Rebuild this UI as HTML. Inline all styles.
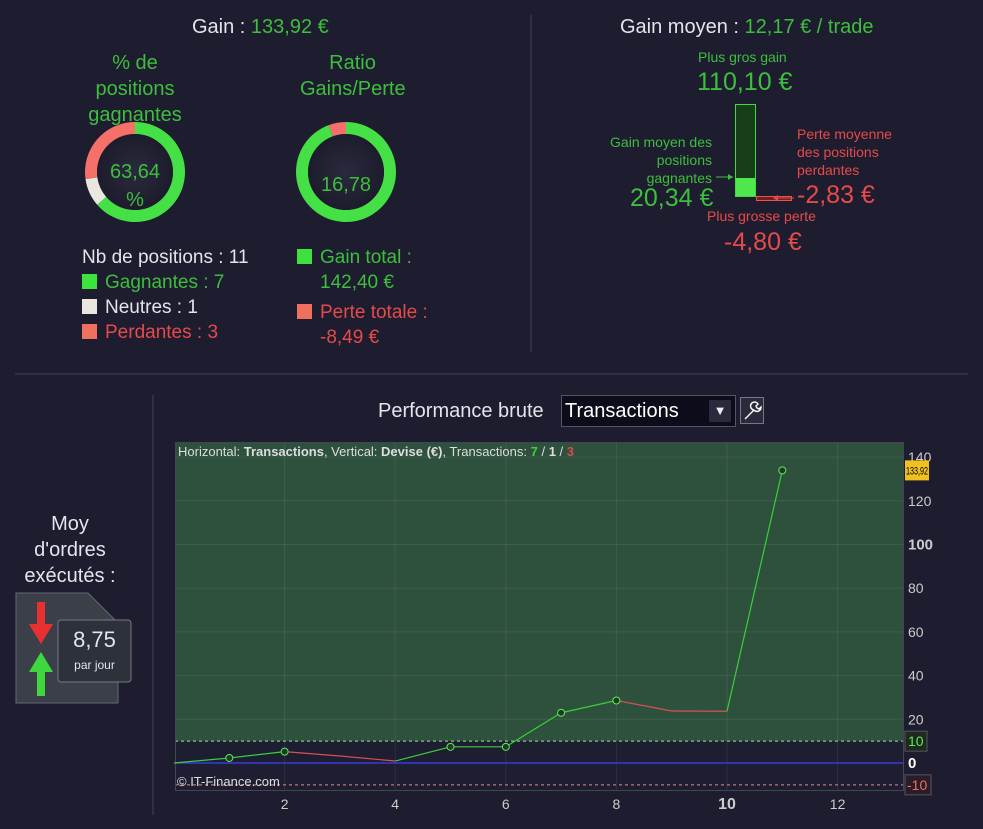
<!DOCTYPE html>
<html><head><meta charset="utf-8"><style>
body{margin:0;width:983px;height:829px;background:#1d1d2f;font-family:"Liberation Sans",sans-serif;overflow:hidden;position:relative;color:#ddd}
.a{position:absolute;white-space:nowrap}
.g{color:#3dbe3d}.r{color:#e64a4a}.w{color:#e4e4ec}
.sq{display:inline-block;width:15px;height:15px;margin-right:8px;vertical-align:-1px}
</style></head><body>
<div class="a w" style="left:192px;top:16px;font-size:20px">Gain : <span class="g">133,92 €</span></div>
<div class="a g" style="left:70px;top:50px;width:130px;text-align:center;font-size:20px;line-height:26px;white-space:normal">% de positions gagnantes</div>
<div class="a g" style="left:300px;top:50px;width:105px;overflow:hidden;font-size:20px;line-height:26px"><div style="text-align:center;width:105px">Ratio</div><div>Gains/Perte</div></div>
<svg class="a" style="left:0;top:0" width="983" height="829">
<defs><radialGradient id="gc"><stop offset="0" stop-color="#2a2a3e"/><stop offset="1" stop-color="#1c1c2c"/></radialGradient></defs>
<g id="d1"></g>
<g id="d2"></g>
<line x1="531" y1="15" x2="531" y2="352" stroke="#44445a"/>
<line x1="15" y1="374" x2="968" y2="374" stroke="#44445a"/>
<line x1="153" y1="395" x2="153" y2="815" stroke="#44445a"/>
<rect x="735.5" y="104.5" width="20" height="92" fill="#173f17" stroke="#44d844"/>
<rect x="736" y="178" width="19" height="18" fill="#4ee84e"/>
<rect x="756.5" y="196.5" width="35" height="4" fill="#702020" stroke="#ee5050"/>
<line x1="716" y1="177" x2="733" y2="177" stroke="#3dbe3d"/><path d="M733 177l-5-3v6z" fill="#3dbe3d"/>
<line x1="778" y1="198" x2="794" y2="198" stroke="#e64a4a"/><path d="M773 198l5-3v6z" fill="#e64a4a"/>
<g><rect x="740.5" y="397.5" width="23" height="26" fill="#2a2a3c" stroke="#778"/><path d="M745 419l9-9m0 0a4 4 0 1 1 4-6l-2 2 1 2 2 1 2-2a4 4 0 0 1-7 3" fill="none" stroke="#fff" stroke-width="1.4"/></g>
</svg>
<div class="a g" style="left:95px;top:158px;width:80px;text-align:center;font-size:20px;line-height:28px">63,64<br>%</div>
<div class="a g" style="left:306px;top:174px;width:80px;text-align:center;font-size:20px">16,78</div>
<div class="a" style="left:82px;top:245px;font-size:19px;line-height:25px">
<div class="w">Nb de positions : 11</div>
<div class="g"><span class="sq" style="background:#3ee23e"></span>Gagnantes : 7</div>
<div class="w"><span class="sq" style="background:#e8e8e0"></span>Neutres : 1</div>
<div class="r"><span class="sq" style="background:#f07060"></span>Perdantes : 3</div></div>
<div class="a" style="left:297px;top:245px;font-size:19px;line-height:25px">
<div class="g"><span class="sq" style="background:#3ee23e"></span>Gain total :</div>
<div class="g" style="padding-left:23px">142,40 €</div>
<div class="r" style="margin-top:5px"><span class="sq" style="background:#f07060"></span>Perte totale :</div>
<div class="r" style="padding-left:23px">-8,49 €</div></div>
<div class="a w" style="left:620px;top:16px;font-size:20px">Gain moyen : <span class="g">12,17 € / trade</span></div>
<div class="a g" style="left:698px;top:49px;font-size:14px">Plus gros gain</div>
<div class="a g" style="left:697px;top:68px;font-size:25px">110,10 €</div>
<div class="a g" style="left:600px;top:133px;width:112px;text-align:right;font-size:14px;line-height:18px;white-space:normal">Gain moyen des positions gagnantes</div>
<div class="a g" style="left:630px;top:184px;font-size:25px">20,34 €</div>
<div class="a r" style="left:797px;top:125px;font-size:14px;line-height:18px">Perte moyenne<br>des positions<br>perdantes</div>
<div class="a r" style="left:797px;top:181px;font-size:25px">-2,83 €</div>
<div class="a r" style="left:707px;top:208px;font-size:14px">Plus grosse perte</div>
<div class="a r" style="left:724px;top:228px;font-size:25px">-4,80 €</div>
<div class="a w" style="left:10px;top:511px;width:120px;text-align:center;font-size:20px;line-height:26px">Moy<br>d'ordres<br>exécutés :</div>
<svg class="a" style="left:15px;top:592px" width="120" height="112">
<path d="M1 1h72l30 30v80H1z" fill="#3a3f48" stroke="#667"/>
<path d="M22 10h8v22h8l-12 20-12-20h8z" fill="#e83030"/>
<path d="M26 60l12 20h-8v24h-8V80h-8z" fill="#3ed83e"/>
<rect x="43" y="28" width="73" height="62" rx="3" fill="#2c313a" stroke="#778"/>
</svg>
<div class="a w" style="left:58px;top:627px;width:73px;text-align:center;font-size:22px">8,75</div>
<div class="a w" style="left:58px;top:658px;width:73px;text-align:center;font-size:12px">par jour</div>
<div class="a w" style="left:378px;top:400px;font-size:20px">Performance brute</div>
<div class="a" style="left:561px;top:395px;width:175px;height:32px;background:#0c0c1a;border:1px solid #556;box-sizing:border-box;color:#fff;font-size:20px;line-height:30px;padding-left:3px">Transactions<span style="position:absolute;right:4px;top:4px;width:22px;height:22px;background:#2a2a3c;color:#eee;font-size:13px;text-align:center;line-height:22px">▼</span></div>
<div class="a" style="left:740px;top:397px;width:24px;height:27px"></div>
<svg id="ch" class="a" style="left:0;top:0" width="983" height="829"></svg>
<script>
const xVals=[0,1,2,3,4,5,6,7,8,9,10,11];
const yVals=[0,2.3,5.2,3.2,0.9,7.4,7.4,23,28.6,23.8,23.7,133.92];
const xTicks=[2,4,6,8,10,12];
const yTicks=[20,40,60,80,100,120,140];
const NS="http://www.w3.org/2000/svg";
function mk(p,t,a){const e=document.createElementNS(NS,t);for(const k in a)e.setAttribute(k,a[k]);p.appendChild(e);return e;}
function arc(cx,cy,r1,r2,a0,a1){const p=(r,a)=>(cx+r*Math.sin(a)).toFixed(2)+" "+(cy-r*Math.cos(a)).toFixed(2);const l=(a1-a0)>Math.PI?1:0;return "M"+p(r1,a0)+"A"+r1+" "+r1+" 0 "+l+" 1 "+p(r1,a1)+"L"+p(r2,a1)+"A"+r2+" "+r2+" 0 "+l+" 0 "+p(r2,a0)+"Z";}
function donut(g,cx,cy,parts,cols){let a=0;const tot=parts.reduce((s,v)=>s+v,0);parts.forEach((v,i)=>{const b=a+v/tot*2*Math.PI;const p=mk(g,"path",{d:arc(cx,cy,50,38,a,b),fill:cols[i]});

a=b;});mk(g,"circle",{cx:cx,cy:cy,r:38,fill:"url(#gc)"});}
donut(document.getElementById("d1"),135,172,[7,1,3],["#45e045","#e8e8e0","#f47068"]);
donut(document.getElementById("d2"),346,172,[142.40,8.49],["#45e045","#f47068"]);
const svg=document.getElementById("ch");
const L=175,R=903,T=442,B=790;
const X=v=>174+v*55.3, Y=v=>763-v*2.185;
mk(svg,"rect",{x:L,y:T,width:R-L,height:Y(10)-T,fill:"#2e513d"});
mk(svg,"rect",{x:L,y:Y(10),width:R-L,height:B-Y(10),fill:"#1e1e32"});
xTicks.forEach(v=>mk(svg,"line",{x1:X(v),y1:T,x2:X(v),y2:B,stroke:"rgba(255,255,255,0.07)"}));
yTicks.forEach(v=>mk(svg,"line",{x1:L,y1:Y(v),x2:R,y2:Y(v),stroke:"rgba(255,255,255,0.07)"}));
mk(svg,"line",{x1:L,y1:Y(10),x2:R,y2:Y(10),stroke:"#9be09b","stroke-dasharray":"3,3"});
mk(svg,"line",{x1:L,y1:Y(-10),x2:R,y2:Y(-10),stroke:"#e08a8a","stroke-dasharray":"3,3"});
mk(svg,"line",{x1:L,y1:Y(0),x2:R,y2:Y(0),stroke:"#3838d8","stroke-width":1.5});
mk(svg,"rect",{x:L+.5,y:T+.5,width:R-L,height:B-T,fill:"none",stroke:"#445"});
for(let i=1;i<xVals.length;i++){const up=yVals[i]>=yVals[i-1];
const s=mk(svg,"line",{x1:X(xVals[i-1]),y1:Y(yVals[i-1]),x2:X(xVals[i]),y2:Y(yVals[i]),stroke:up?"#38d038":"#d85050","stroke-width":1.2});

}
for(let i=1;i<xVals.length;i++){if(yVals[i]>=yVals[i-1]){const c=mk(svg,"circle",{cx:X(xVals[i]),cy:Y(yVals[i]),r:3.5,fill:"#1f3a22",stroke:"#5ee85e"});

}}
xTicks.forEach(v=>{const t=mk(svg,"text",{x:X(v),y:809,fill:"#ccc","font-size":v===10?16:14,"font-weight":v===10?"bold":"normal","text-anchor":"middle"});t.textContent=v;

});
yTicks.forEach(v=>{const t=mk(svg,"text",{x:908,y:Y(v)+5,fill:"#ccc","font-size":v===100?15:14,"font-weight":v===100?"bold":"normal"});t.textContent=v;

});
const z=mk(svg,"text",{x:908,y:Y(0)+5,fill:"#fff","font-size":15,"font-weight":"bold"});z.textContent="0";
mk(svg,"rect",{x:905,y:Y(10)-10,width:22,height:20,fill:"#1d2a1d",stroke:"#556"});
const t10=mk(svg,"text",{x:908,y:Y(10)+5,fill:"#5ee85e","font-size":14});t10.textContent="10";
mk(svg,"rect",{x:905,y:Y(-10)-10,width:26,height:20,fill:"#2a1d26",stroke:"#556"});
const tm=mk(svg,"text",{x:907,y:Y(-10)+5,fill:"#e87070","font-size":14});tm.textContent="-10";
const last=yVals[yVals.length-1];
mk(svg,"rect",{x:905,y:Y(last)-10,width:24,height:20,fill:"#f0c020"});
const lt=mk(svg,"text",{x:906,y:Y(last)+4,fill:"#000","font-size":11,textLength:22,lengthAdjust:"spacingAndGlyphs"});lt.textContent=last.toFixed(2).replace(".",",");


const h=mk(svg,"text",{x:178,y:456,fill:"#ddd","font-size":13});
h.innerHTML='Horizontal: <tspan font-weight="bold">Transactions</tspan>, Vertical: <tspan font-weight="bold">Devise (€)</tspan>, Transactions: <tspan fill="#3dd03d" font-weight="bold">7</tspan> / <tspan font-weight="bold">1</tspan> / <tspan fill="#e04848" font-weight="bold">3</tspan>';


const c=mk(svg,"text",{x:177,y:786,fill:"#ddd","font-size":13});c.textContent="© IT-Finance.com";


</script>
</body></html>
